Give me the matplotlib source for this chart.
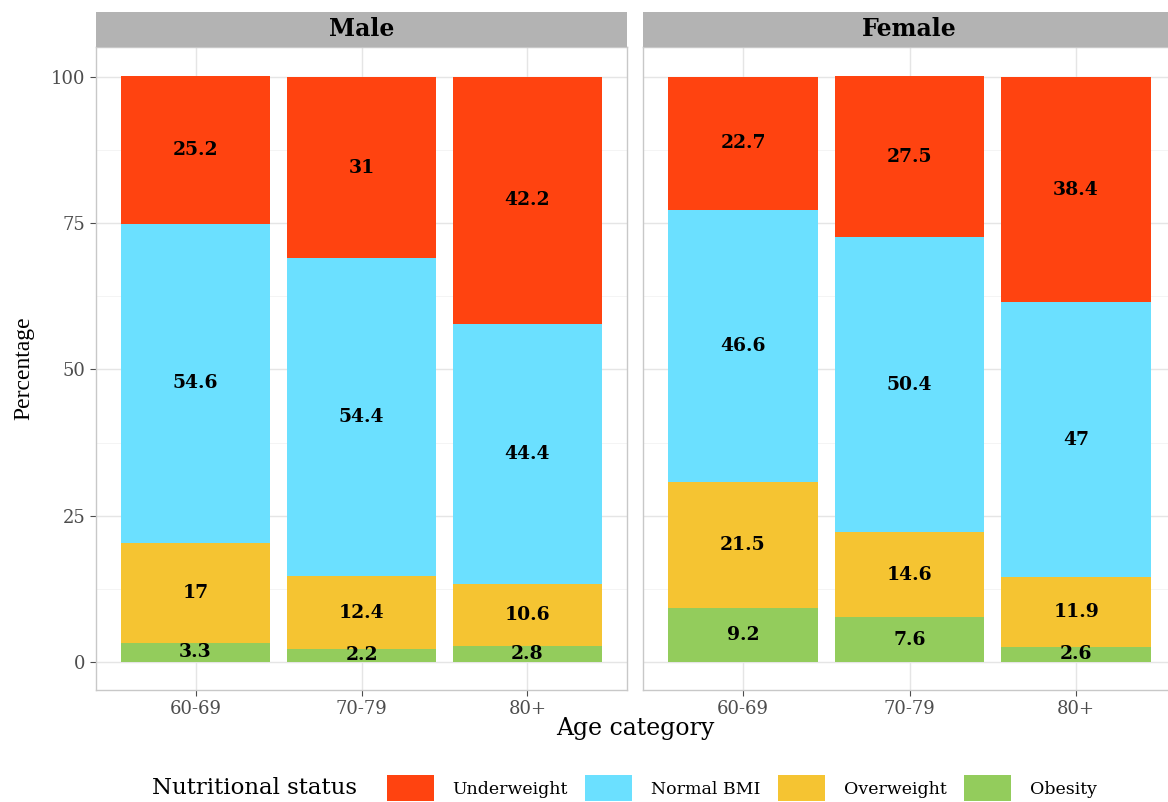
import matplotlib.pyplot as plt
from matplotlib.patches import Patch
import numpy as np

plt.rcParams["font.family"] = ["DejaVu Serif", "Liberation Serif"]

ages = ["60-69", "70-79", "80+"]
sexes = ["Male", "Female"]
statuses = ["Underweight", "Normal BMI", "Overweight", "Obesity"]

# values per sex, ordered bottom to top: Obesity, Overweight, Normal BMI, Underweight
male_obesity = [3.3, 2.2, 2.8]
male_overweight = [17, 12.4, 10.6]
male_normal = [54.6, 54.4, 44.4]
male_under = [25.2, 31, 42.2]

female_obesity = [9.2, 7.6, 2.6]
female_overweight = [21.5, 14.6, 11.9]
female_normal = [46.6, 50.4, 47]
female_under = [22.7, 27.5, 38.4]

colors = {
    "Underweight": "#FF4310",
    "Normal BMI": "#6BE0FF",
    "Overweight": "#F5C432",
    "Obesity": "#93CC5C",
}

data = {
    "Male": [("Obesity", male_obesity), ("Overweight", male_overweight),
             ("Normal BMI", male_normal), ("Underweight", male_under)],
    "Female": [("Obesity", female_obesity), ("Overweight", female_overweight),
               ("Normal BMI", female_normal), ("Underweight", female_under)],
}

W, H = 1168, 802
fig = plt.figure(figsize=(W / 100, H / 100), dpi=100)

def fx(px):
    return px / W

def fy(py):
    return 1 - py / H

panels = {"Male": (96, 627), "Female": (643, 1176)}
top, bottom, strip_top = 47, 690, 12

for sex in sexes:
    x0, x1 = panels[sex]
    ax = fig.add_axes([fx(x0), fy(bottom), fx(x1 - x0), fy(top) - fy(bottom)])
    x = np.arange(len(ages))
    base = np.zeros(len(ages))
    for status, vals in data[sex]:
        vals = np.array(vals, dtype=float)
        ax.bar(x, vals, bottom=base, width=0.9, color=colors[status], zorder=2)
        for xi, b, v in zip(x, base, vals):
            ax.text(xi, b + v / 2, f"{v:g}", ha="center", va="center",
                    fontsize=13.5, fontweight="bold", color="black", zorder=3)
        base += vals
    ax.set_xlim(-0.6, 2.6)
    ax.set_ylim(-4.8, 105.1)
    ax.set_yticks([0, 25, 50, 75, 100])
    ax.set_yticks([12.5, 37.5, 62.5, 87.5], minor=True)
    ax.set_xticks(x)
    ax.set_xticklabels(ages)
    ax.grid(True, which="major", color="#E5E5E5", linewidth=1.0, zorder=0)
    ax.grid(True, which="minor", axis="y", color="#F2F2F2", linewidth=0.6, zorder=0)
    ax.set_axisbelow(True)
    ax.tick_params(axis="both", which="major", colors="#4D4D4D", labelsize=13,
                   length=4, width=0.8, labelcolor="#4D4D4D")
    ax.tick_params(axis="y", which="minor", length=0)
    for sp in ax.spines.values():
        sp.set_color("#C8C8C8")
        sp.set_linewidth(1.0)
    if sex == "Female":
        ax.tick_params(axis="y", labelleft=False, left=False)
    else:
        ax.set_ylabel("Percentage", fontsize=17, labelpad=12,
                      family=["Liberation Serif"])

    sax = fig.add_axes([fx(x0), fy(top), fx(x1 - x0), fy(strip_top) - fy(top)])
    sax.set_facecolor("#B3B3B3")
    sax.set_xticks([])
    sax.set_yticks([])
    for sp in sax.spines.values():
        sp.set_visible(False)
    sax.text(0.5, 0.5, sex, transform=sax.transAxes, ha="center", va="center",
             fontsize=17, fontweight="bold")

fig.text(fx(635), fy(728), "Age category", ha="center", va="center", fontsize=17)

fig.text(fx(152), fy(788), "Nutritional status", ha="left", va="center", fontsize=16.5)
handles = [Patch(facecolor=colors[s], edgecolor="none", label=s) for s in statuses]
fig.legend(handles=handles, loc="center left", bbox_to_anchor=(fx(378), fy(788)),
           ncol=4, frameon=False, fontsize=12.5, handlelength=2.7, handleheight=1.9,
           handletextpad=1.1, columnspacing=1.0, borderpad=0)

fig.savefig("out.png", dpi=100)
